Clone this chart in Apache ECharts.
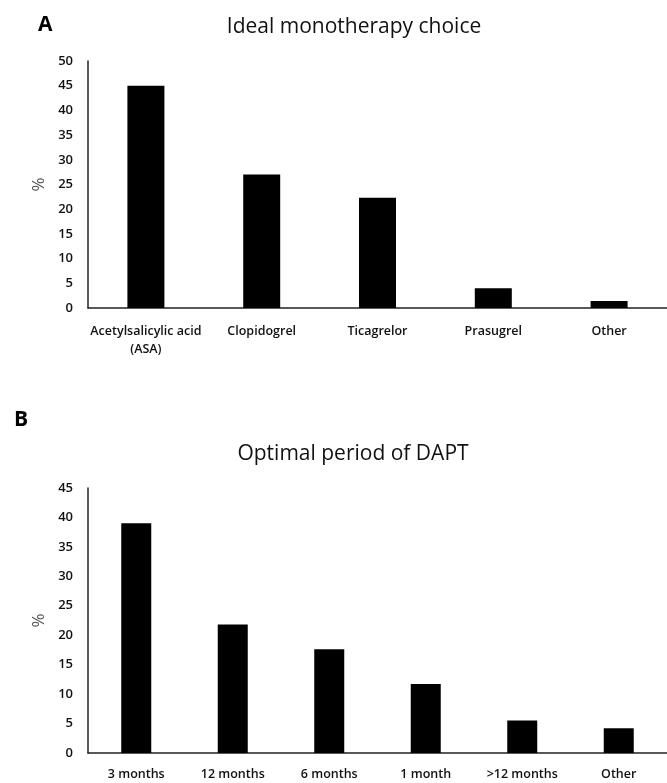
<!DOCTYPE html>
<html>
<head>
<meta charset="utf-8">
<title>Antiplatelet survey</title>
<script src="https://cdn.jsdelivr.net/npm/echarts@6/dist/echarts.min.js"></script>
<style>
  html, body { margin: 0; padding: 0; background: #fff; }
  #chart { width: 667px; height: 783px; }
</style>
</head>
<body>
<div id="chart"></div>
<script>
// panel A: ideal monotherapy choice (%)
const monoCategories = ['Acetylsalicylic acid\n(ASA)', 'Clopidogrel', 'Ticagrelor', 'Prasugrel', 'Other']
const monoValues = [45.0, 27.0, 22.3, 4.0, 1.4]

// panel B: optimal period of DAPT (%)
const daptCategories = ['3 months', '12 months', '6 months', '1 month', '>12 months', 'Other']
const daptValues = [39.0, 21.8, 17.6, 11.7, 5.5, 4.2]

const FONT = '"Open Sans", "Noto Sans", sans-serif'
const axisLine = { show: true, lineStyle: { color: '#222', width: 1.5 } }

const chart = echarts.init(document.getElementById('chart'))

function xAxisFor(idx, data, margin) {
  return {
    type: 'category',
    gridIndex: idx,
    data: data,
    axisLine: axisLine,
    axisTick: { show: false },
    axisLabel: {
      interval: 0,
      margin: margin,
      color: '#111',
      fontFamily: FONT,
      fontSize: 12.5,
      fontWeight: 600,
      lineHeight: 18
    }
  }
}

function yAxisFor(idx, max) {
  return {
    type: 'value',
    gridIndex: idx,
    min: 0,
    max: max,
    interval: 5,
    name: '%',
    nameLocation: 'middle',
    nameGap: 40,
    nameTextStyle: { color: '#555', fontFamily: FONT, fontSize: 17 },
    axisLine: axisLine,
    axisTick: { show: false },
    splitLine: { show: false },
    axisLabel: { color: '#111', fontFamily: FONT, fontSize: 13, fontWeight: 600, margin: 15 }
  }
}

chart.setOption({
  animation: false,
  title: [
    { text: 'A', left: 33, top: 10, textStyle: { fontFamily: FONT, fontSize: 21, fontWeight: 'bold', color: '#000' } },
    { text: 'Ideal monotherapy choice', left: 349, top: 12, textAlign: 'center',
      textStyle: { fontFamily: FONT, fontSize: 21, fontWeight: 'normal', color: '#111' } },
    { text: 'B', left: 9, top: 405, textStyle: { fontFamily: FONT, fontSize: 21, fontWeight: 'bold', color: '#000' } },
    { text: 'Optimal period of DAPT', left: 348, top: 439, textAlign: 'center',
      textStyle: { fontFamily: FONT, fontSize: 21, fontWeight: 'normal', color: '#111' } }
  ],
  grid: [
    { left: 88, top: 61, width: 582, height: 247 },
    { left: 88, top: 488, width: 580, height: 266 }
  ],
  xAxis: [xAxisFor(0, monoCategories, 14), xAxisFor(1, daptCategories, 12)],
  yAxis: [yAxisFor(0, 50), yAxisFor(1, 45)],
  series: [
    {
      type: 'bar',
      xAxisIndex: 0,
      yAxisIndex: 0,
      data: monoValues,
      barWidth: 37,
      itemStyle: { color: '#000' }
    },
    {
      type: 'bar',
      xAxisIndex: 1,
      yAxisIndex: 1,
      data: daptValues,
      barWidth: 30,
      itemStyle: { color: '#000' }
    }
  ]
})

window.addEventListener('resize', () => chart.resize())
</script>
</body>
</html>
